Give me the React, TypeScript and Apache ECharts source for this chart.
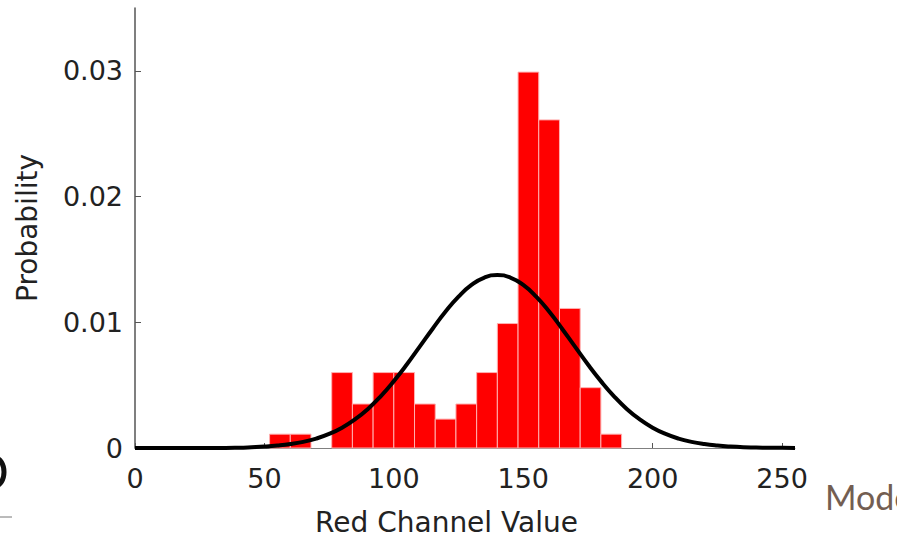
import React, { useEffect, useRef } from "react";
import * as echarts from "echarts";

// Histogram bins (bin centers, width 8) and probabilities
const BIN_WIDTH = 8;
const binCenters = [56, 64, 80, 88, 96, 104, 112, 120, 128, 136, 144, 152, 160, 168, 176, 184];
const binProbs = [0.0011, 0.0011, 0.006, 0.0035, 0.006, 0.006, 0.0035, 0.0023, 0.0035, 0.006, 0.0099, 0.0299, 0.0261, 0.0111, 0.0048, 0.0011];

// Fitted curve
const curveX = [0, 5, 10, 15, 20, 25, 30, 35, 40, 45, 50, 55, 60, 65, 70, 75, 80, 85, 90, 95, 100, 105, 110, 115, 120, 125, 130, 135, 140, 145, 150, 155, 160, 165, 170, 175, 180, 185, 190, 195, 200, 205, 210, 215, 220, 225, 230, 235, 240, 245, 250, 255];
const curveY = [0, 0, 0, 0, 0, 0, 0, 0, 0.00002, 0.00006, 0.00011, 0.00019, 0.00031, 0.00049, 0.00075, 0.00112, 0.00162, 0.00228, 0.00311, 0.00413, 0.00532, 0.00664, 0.00806, 0.00949, 0.01085, 0.01204, 0.01297, 0.01356, 0.01376, 0.01356, 0.01297, 0.01204, 0.01085, 0.00949, 0.00806, 0.00664, 0.00532, 0.00413, 0.00311, 0.00228, 0.00162, 0.00112, 0.00075, 0.00049, 0.00031, 0.00019, 0.00011, 0.00006, 0.00004, 0.00002, 0.00001, 0];

const xTicks = [0, 50, 100, 150, 200, 250];
const yTicks = [0, 0.01, 0.02, 0.03];

const FONT = "DejaVu Sans";

export default function App() {
  const ref = useRef<HTMLDivElement>(null);
  useEffect(() => {
    if (!ref.current) return;
    const chart = echarts.init(ref.current, null, { renderer: "svg" });
    const barData = binCenters.map((c, i) => [c - BIN_WIDTH / 2, c + BIN_WIDTH / 2, binProbs[i]]);
    chart.setOption({
      animation: false,
      backgroundColor: "#ffffff",
      grid: { left: 135, right: 102, top: 8, bottom: 89, containLabel: false, outerBoundsMode: "none" },
      xAxis: {
        type: "value",
        min: 0,
        max: 255,
        name: "Red Channel Value",
        nameLocation: "middle",
        nameGap: 60,
        nameTextStyle: { fontFamily: FONT, fontSize: 28, color: "#222222", padding: [0, 37, 0, 0] },
        splitLine: { show: false },
        axisLine: { show: true, lineStyle: { color: "#808080", width: 1 } },
        axisTick: { show: true, inside: true, length: 5, customValues: xTicks, lineStyle: { color: "#555" } },
        axisLabel: {
          customValues: xTicks,
          margin: 17,
          fontFamily: FONT,
          fontSize: 27,
          color: "#222222",
          formatter: (v: number) => String(v),
        },
      },
      yAxis: {
        type: "value",
        min: 0,
        max: 0.035,
        name: "Probability",
        nameLocation: "middle",
        nameGap: 94,
        nameTextStyle: { fontFamily: FONT, fontSize: 28, color: "#222222" },
        splitLine: { show: false },
        axisLine: { show: true, lineStyle: { color: "#555555", width: 1.5 } },
        axisTick: { show: true, inside: true, length: 6, customValues: yTicks, lineStyle: { color: "#555" } },
        axisLabel: {
          customValues: yTicks,
          margin: 12,
          fontFamily: FONT,
          fontSize: 27,
          color: "#222222",
          formatter: (v: number) => (v === 0 ? "0" : v.toFixed(2)),
        },
      },
      series: [
        {
          type: "custom",
          z: 2,
          data: barData,
          encode: { x: [0, 1], y: 2 },
          renderItem: (params: any, api: any) => {
            const p0 = api.coord([api.value(0), api.value(2)]);
            const p1 = api.coord([api.value(1), 0]);
            return {
              type: "rect",
              shape: { x: p0[0], y: p0[1], width: p1[0] - p0[0], height: p1[1] - p0[1] },
              style: { fill: "#ff0000", stroke: "#ffb0b0", lineWidth: 1 },
            };
          },
        },
        {
          type: "line",
          z: 3,
          data: curveX.map((x, i) => [x, curveY[i]]),
          smooth: true,
          symbol: "none",
          lineStyle: { color: "#000000", width: 4 },
        },
      ],
      graphic: [
        {
          type: "text",
          left: 825,
          top: 479,
          style: { text: "Mode", fontFamily: "Lato", fontSize: 34, fill: "#735e52" },
        },
        {
          type: "ellipse",
          shape: { cx: -5, cy: 472, rx: 9, ry: 14 },
          style: { fill: "none", stroke: "#111", lineWidth: 5 },
        },
        {
          type: "line",
          shape: { x1: 0, y1: 517, x2: 12, y2: 517 },
          style: { stroke: "#777", lineWidth: 1 },
        },
      ],
    });
    return () => chart.dispose();
  }, []);
  return <div ref={ref} style={{ position: "absolute", left: 0, top: 0, width: 897, height: 537 }} />;
}
